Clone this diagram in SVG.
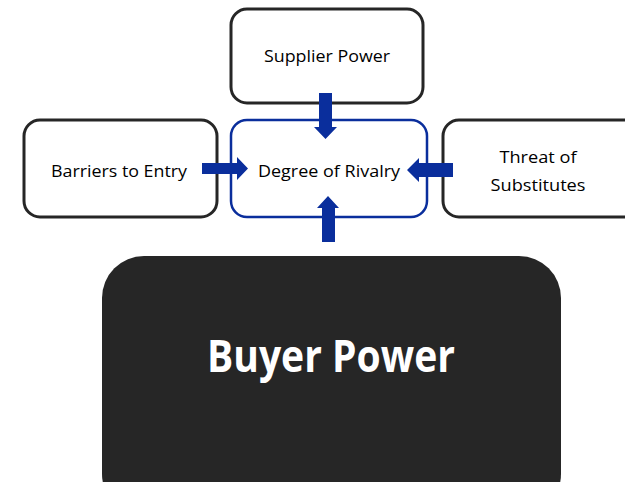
<svg xmlns="http://www.w3.org/2000/svg" width="625" height="482" viewBox="0 0 625 482">
  <style>
    .box { fill: #ffffff; stroke: #262626; stroke-width: 3; }
    .core { fill: #ffffff; stroke: #0a2e9c; stroke-width: 2.5; }
    .dark { fill: #262626; }
    .lbl { font-family: "Open Sans", "Liberation Sans", sans-serif; font-size: 16px; fill: #000000; text-anchor: middle; }
    .big { font-family: "Open Sans", "Liberation Sans", sans-serif; font-size: 45px; font-weight: bold; fill: #ffffff; text-anchor: middle; }
    .arrow { fill: #0a2e9c; }
  </style>
  <rect width="625" height="482" fill="#ffffff"/>

  <g id="supplier-power">
    <rect class="box" x="231" y="9" width="192" height="94" rx="16"/>
    <text class="lbl" x="327" y="62" textLength="126" lengthAdjust="spacingAndGlyphs">Supplier Power</text>
  </g>

  <g id="barriers-to-entry">
    <rect class="box" x="24" y="120" width="193" height="97" rx="16"/>
    <text class="lbl" x="119" y="177" textLength="136" lengthAdjust="spacingAndGlyphs">Barriers to Entry</text>
  </g>

  <g id="threat-of-substitutes">
    <rect class="box" x="443" y="120" width="200" height="97" rx="16"/>
    <text class="lbl" x="538" y="163" textLength="77" lengthAdjust="spacingAndGlyphs">Threat of</text>
    <text class="lbl" x="538" y="191" textLength="95" lengthAdjust="spacingAndGlyphs">Substitutes</text>
  </g>

  <g id="degree-of-rivalry">
    <rect class="core" x="231" y="120" width="196" height="97" rx="16"/>
    <text class="lbl" x="329" y="177" textLength="142" lengthAdjust="spacingAndGlyphs">Degree of Rivalry</text>
  </g>

  <g id="buyer-power">
    <rect class="dark" x="102" y="256" width="459" height="260" rx="42"/>
    <text class="big" x="331" y="372" textLength="248" lengthAdjust="spacingAndGlyphs">Buyer Power</text>
  </g>

  <g id="connectors">
    <!-- supplier power down into rivalry -->
    <polygon class="arrow" points="319,93 332,93 332,127 337,127 325.5,139 314,127 319,127"/>
    <!-- buyer power up into rivalry -->
    <polygon class="arrow" points="322,242 335,242 335,208 339,208 328,196 317,208 322,208"/>
    <!-- barriers right into rivalry -->
    <polygon class="arrow" points="202,163 237,163 237,157 248,168.5 237,180 237,174 202,174"/>
    <!-- substitutes left into rivalry -->
    <polygon class="arrow" points="453,163 419,163 419,158 407,170 419,182 419,177 453,177"/>
  </g>
</svg>
